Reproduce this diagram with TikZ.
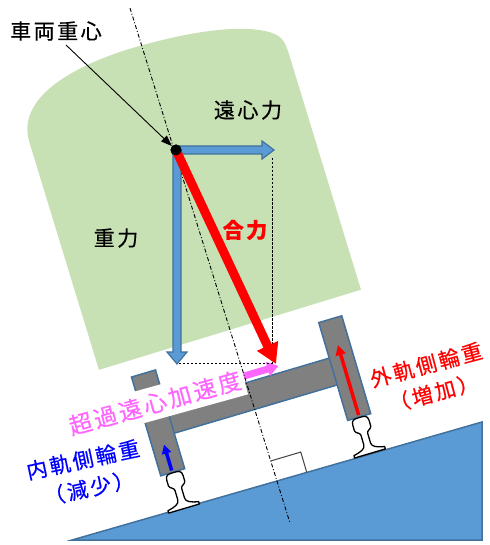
\documentclass[tikz,border=0pt]{standalone}
\usepackage{fontspec}
\newfontfamily\jp{Noto Sans CJK JP}[LetterSpace=12, FakeBold=0.5]
\usetikzlibrary{arrows.meta}
\definecolor{bodygreen}{RGB}{199,224,180}
\definecolor{forceblue}{RGB}{91,155,213}
\definecolor{edgeblue}{RGB}{65,113,156}
\definecolor{framegray}{RGB}{128,128,128}
\definecolor{accelpink}{RGB}{255,102,255}
% rail cross-section, foot centred at (#1,0) of the current frame
\newcommand\railsection[1]{%
  \draw[railline, shift={(#1,0)}]
    (-16,0) -- (16,0) -- (16,2.5)
    .. controls (8,4) and (3.5,6) .. (3.5,10) -- (3.5,20)
    .. controls (3.5,23) and (8,23) .. (8.5,26) -- (8.5,32)
    .. controls (8.5,37.5) and (5,37.5) .. (0,37.5)
    .. controls (-5,37.5) and (-8.5,37.5) .. (-8.5,32) -- (-8.5,26)
    .. controls (-8,23) and (-3.5,23) .. (-3.5,20) -- (-3.5,10)
    .. controls (-3.5,6) and (-8,4) .. (-16,2.5) -- cycle;}
\begin{document}
\begin{tikzpicture}[x=1pt,y=-1pt,
  lbl/.style={font=\jp\fontsize{21}{29}\selectfont, inner sep=0pt, align=center},
  forcearrow/.style={fill=forceblue, draw=edgeblue, line width=1.2pt, line join=miter},
  framepart/.style={fill=framegray, draw=edgeblue, line width=1.5pt},
  guide/.style={line width=0.9pt, dash pattern=on 2.5pt off 1.5pt},
  axisline/.style={line width=0.9pt, dash pattern=on 4pt off 2pt on 1pt off 2pt},
  railline/.style={fill=white, draw=black, line width=1.3pt, line join=round}
]
\useasboundingbox (0,0) rectangle (489,545);

% car body, tilted with the cant
\begin{scope}[shift={(175,150)}, rotate=17, yscale=-1]
  \fill[bodygreen] (-137,-188) -- (-137,50)
    .. controls (-137,85) and (-100,108) .. (-20,110)
    .. controls (60,110) and (105,98) .. (125,85)
    .. controls (137,77) and (137,70) .. (137,55)
    -- (137,-188) -- cycle;
\end{scope}

% cant slope
\draw[fill=forceblue, draw=edgeblue, line width=1.5pt] (72,540) -- (482,422) -- (482,540) -- cycle;

% bogie frame, rails and wheel loads
\begin{scope}[shift={(277,481)}, rotate=16.5, yscale=-1]
  \draw[framepart] (-97,75) rectangle (97,103);
  \draw[framepart] (-110,38) rectangle (-85,141);
  \draw[framepart] (85,38) rectangle (109,140);
  \railsection{-97}
  \railsection{97}
  \draw[red, line width=3.5pt, -{Triangle[length=10pt,width=10pt]}] (97,40) -- (97,113);
  \draw[blue, line width=3.5pt, -{Triangle[length=9pt,width=9pt]}] (-98,40) -- (-98,67);
  \draw[black!75, line width=1pt] (0,21) -- (31,21) -- (31,0);
\end{scope}

% excess centrifugal acceleration
\node[fill=white, rotate=15.5, minimum width=184pt, minimum height=33pt, inner sep=0pt,
      text=accelpink, font=\jp\fontsize{23}{23}\selectfont] (accel) at (155,403) {超過遠心加速度};
\begin{scope}[shift={(277,481)}, rotate=16.5, yscale=-1]
  \fill[accelpink] (-2,106.5) -- (23,106.5) -- (23,102.5) -- (34,110)
    -- (23,117.5) -- (23,113.5) -- (-2,113.5) -- cycle;
\end{scope}

% centre line of the vehicle
\coordinate (axtop) at (130,8);
\coordinate (axbot) at (290,523);
\draw[axisline] (axtop) -- (axbot);

% force parallelogram guides
\coordinate (cfend) at (272,158);
\coordinate (rcorner) at (272,363);
\coordinate (gtip) at (177,363);
\draw[guide] (cfend) -- (rcorner) -- (gtip);

% gravity and centrifugal force
\draw[forcearrow] (173,150) -- (181,150) -- (181,352) -- (187,352) -- (177,364)
  -- (167,352) -- (173,352) -- cycle;
\draw[forcearrow] (175,146) -- (262,146) -- (262,141) -- (274,150) -- (262,159)
  -- (262,154) -- (175,154) -- cycle;

% resultant
\node[circle, fill=black, minimum size=11pt, inner sep=0pt] (cgdot) at (176,150) {};
\coordinate (rtip) at (276,364);
\draw[red, line width=9pt, -{Triangle[length=20pt,width=22pt]}] (cgdot.center) -- (rtip);
\node[circle, fill=black, minimum size=11pt, inner sep=0pt] at (cgdot) {};

% labels
\node[lbl] (cglabel) at (56,31) {車両重心};
\coordinate (cgtail) at (66,45);
\draw[line width=0.9pt, -{Triangle[length=11pt,width=8pt]}] (cgtail) -- (cgdot);
\node[lbl] (cflabel) at (248,110) {遠心力};
\node[lbl] (glabel) at (116,238) {重力};
\node[lbl, text=red, font=\jp\bfseries\fontsize{21}{29}\selectfont] (rlabel) at (245,230) {合力};
\node[lbl, text=red, rotate=15] (outerlabel) at (430,379) {外軌側輪重\\（増加）};
\node[lbl, text=blue, rotate=12] (innerlabel) at (86,474) {内軌側輪重\\（減少）};
\end{tikzpicture}
\end{document}
